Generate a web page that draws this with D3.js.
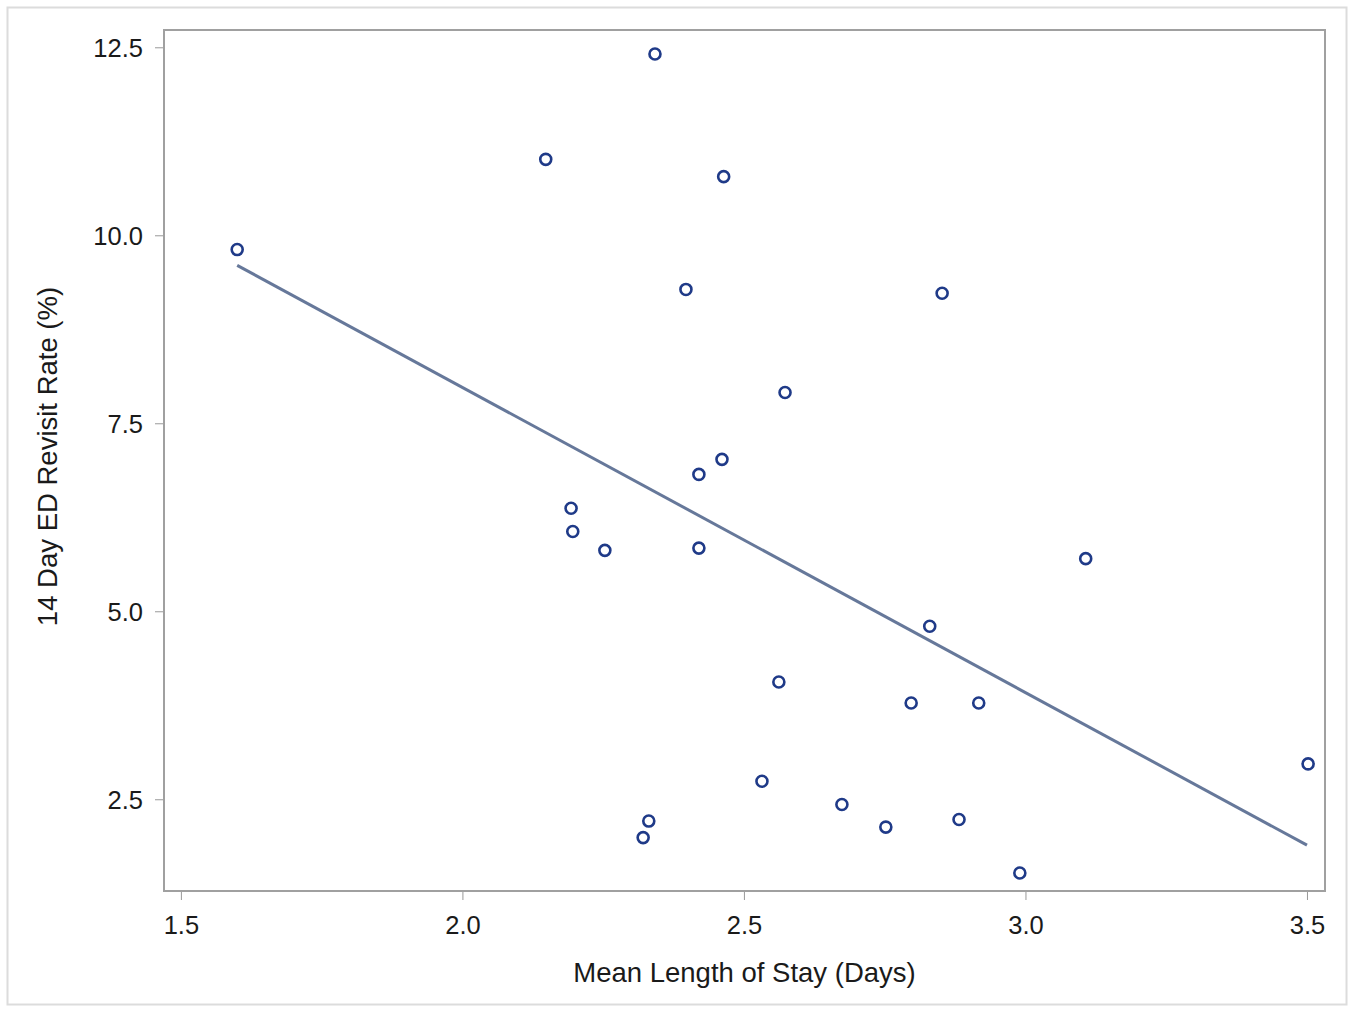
<!DOCTYPE html>
<html>
<head>
<meta charset="utf-8">
<script src="https://cdn.jsdelivr.net/npm/d3@7"></script>
<style>
  html, body { margin: 0; padding: 0; background: #fff; }
  #chart { width: 1355px; height: 1011px; }
  .axis text { font-family: "Liberation Sans", Arial, sans-serif; font-size: 25.5px; fill: #1a1a1a; }
  .axis-label { font-family: "Liberation Sans", Arial, sans-serif; font-size: 27.5px; fill: #1a1a1a; }
</style>
</head>
<body>
<div id="chart"></div>
<script>
// Mean length of stay vs 14 day ED revisit rate, one point per site
const lengthOfStay = [1.60, 2.148, 2.342, 2.464, 2.397, 2.852, 2.573, 2.461, 2.420, 2.193, 2.196,
  2.253, 2.420, 3.107, 2.830, 2.562, 2.797, 2.917, 3.502, 2.532, 2.674, 2.752, 2.331, 2.321, 2.882, 2.990];
const revisitRate = [9.81, 11.01, 12.41, 10.78, 9.28, 9.23, 7.91, 7.02, 6.82, 6.37, 6.06,
  5.81, 5.84, 5.70, 4.80, 4.06, 3.78, 3.78, 2.97, 2.74, 2.43, 2.13, 2.21, 1.99, 2.23, 1.52];

// fitted regression line, read at its two ends
const fitX = [1.60, 3.50];
const fitY = [9.60, 1.89];

const xTicks = [1.5, 2.0, 2.5, 3.0, 3.5];
const yTicks = [2.5, 5.0, 7.5, 10.0, 12.5];

const width = 1355;
const height = 1011;
const margin = { top: 30, right: 30, bottom: 120, left: 164 };
const plotW = 1325 - margin.left;
const plotH = 891 - margin.top;

const svg = d3.select('#chart')
  .append('svg')
  .attr('width', width)
  .attr('height', height);

// outer frame
svg.append('rect')
  .attr('x', 7.5).attr('y', 7.5)
  .attr('width', 1339).attr('height', 997)
  .attr('fill', 'none')
  .attr('stroke', '#dcdcdc')
  .attr('stroke-width', 2);

const g = svg.append('g').attr('transform', `translate(${margin.left},${margin.top})`);

const x = d3.scaleLinear().domain([1.47, 3.532]).range([0, plotW]);
const y = d3.scaleLinear().domain([1.28, 12.73]).range([plotH, 0]);

g.append('g')
  .attr('class', 'axis')
  .attr('transform', `translate(0,${plotH})`)
  .call(d3.axisBottom(x).tickValues(xTicks).tickFormat(d3.format('.1f')).tickSize(9).tickPadding(16))
  .call((a) => a.select('.domain').remove())
  .call((a) => a.selectAll('line').attr('stroke', '#999'));

g.append('g')
  .attr('class', 'axis')
  .call(d3.axisLeft(y).tickValues(yTicks).tickFormat(d3.format('.1f')).tickSize(9).tickPadding(12))
  .call((a) => a.select('.domain').remove())
  .call((a) => a.selectAll('line').attr('stroke', '#999'))
  .call((a) => a.selectAll('text').attr('dy', '0.36em'));

// plot frame
g.append('rect')
  .attr('x', 0).attr('y', 0)
  .attr('width', plotW).attr('height', plotH)
  .attr('fill', 'none')
  .attr('stroke', '#a0a0a0')
  .attr('stroke-width', 2);

const fit = fitX.map((v, i) => [v, fitY[i]]);
g.append('path')
  .datum(fit)
  .attr('fill', 'none')
  .attr('stroke', '#66789a')
  .attr('stroke-width', 3)
  .attr('d', d3.line().x((d) => x(d[0])).y((d) => y(d[1])));

const points = lengthOfStay.map((v, i) => ({ los: v, rate: revisitRate[i] }));
g.selectAll('circle.pt')
  .data(points)
  .join('circle')
  .attr('class', 'pt')
  .attr('cx', (d) => x(d.los))
  .attr('cy', (d) => y(d.rate))
  .attr('r', 5.5)
  .attr('fill', 'none')
  .attr('stroke', '#1f3a88')
  .attr('stroke-width', 2.6);

svg.append('text')
  .attr('class', 'axis-label')
  .attr('x', margin.left + plotW / 2)
  .attr('y', 982)
  .attr('text-anchor', 'middle')
  .text('Mean Length of Stay (Days)');

svg.append('text')
  .attr('class', 'axis-label')
  .attr('transform', `translate(57,${margin.top + plotH / 2 - 4}) rotate(-90)`)
  .attr('text-anchor', 'middle')
  .text('14 Day ED Revisit Rate (%)');
</script>
</body>
</html>
